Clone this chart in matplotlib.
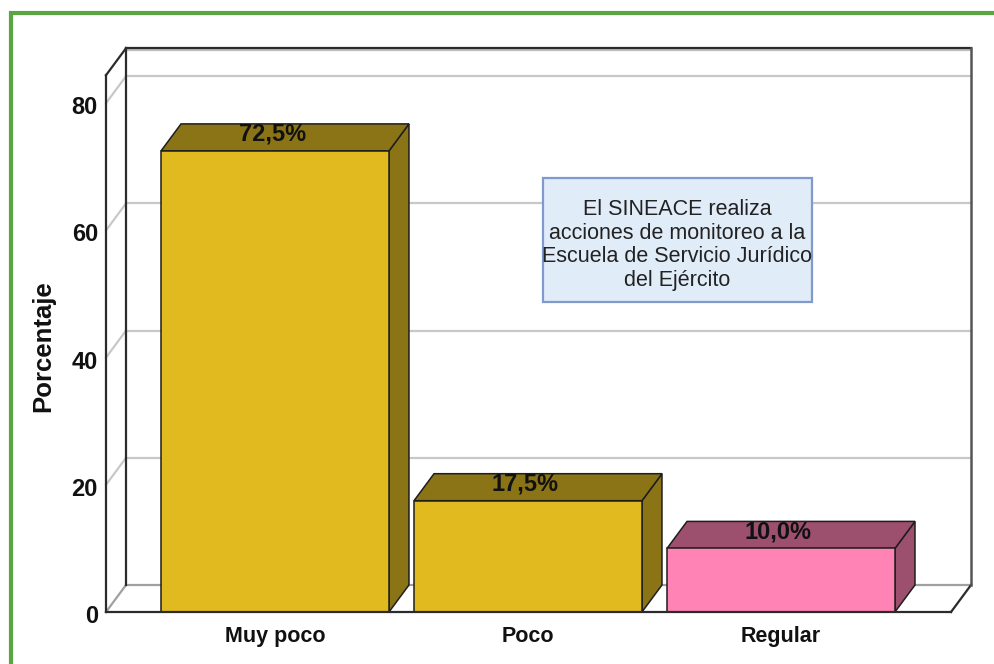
import matplotlib
matplotlib.use("Agg")
import matplotlib.pyplot as plt
from matplotlib.patches import Rectangle, Polygon
from matplotlib.lines import Line2D

# ---- data ----
categories = ["Muy poco", "Poco", "Regular"]
values = [72.5, 17.5, 10.0]
value_labels = ["72,5%", "17,5%", "10,0%"]
yticks = [0, 20, 40, 60, 80]
ylabel = "Porcentaje"
note = "El SINEACE realiza\nacciones de monitoreo a la\nEscuela de Servicio Jurídico\ndel Ejército"

front_colors = ["#e1ba20", "#e1ba20", "#ff83b5"]
dark_colors = ["#8a7415", "#8a7415", "#9d506d"]

NARROW = ["Liberation Sans Narrow", "Liberation Sans", "DejaVu Sans"]
SANS = ["Liberation Sans", "DejaVu Sans"]

fig = plt.figure(figsize=(9.95, 6.64), dpi=100)
ax = fig.add_axes([0, 0, 1, 1])
ax.set_xlim(-275 / 253, 720 / 253)
ax.set_ylim(-52 / 6.36, 612 / 6.36)
ax.axis("off")

# 3D depth offsets (data units)
DX = 20 / 253
DY = 27 / 6.36
n = len(categories)
x0 = -0.5 - 0.168
x1 = n - 1 + 0.5 + 0.172
ytop = 84.4
bw = 0.901

grid_c = "#c8c8c8"
frame_c = "#2b2b2b"

# gridlines on back wall and left wall
for t in yticks[1:]:
    ax.add_line(Line2D([x0 + DX, x1 + DX], [t + DY, t + DY], color=grid_c, lw=1.6, zorder=1))
    ax.add_line(Line2D([x0, x0 + DX], [t, t + DY], color=grid_c, lw=1.6, zorder=1))

# floor
ax.add_line(Line2D([x0 + DX, x1 + DX], [DY, DY], color="#a0a0a0", lw=1.6, zorder=1))
ax.add_line(Line2D([x0, x0 + DX], [0, DY], color="#a0a0a0", lw=1.6, zorder=1))
ax.add_line(Line2D([x1, x1 + DX], [0, DY], color=frame_c, lw=1.6, zorder=1))

# back wall frame
ax.add_line(Line2D([x0 + DX, x1 + DX], [ytop + DY - 0.35, ytop + DY - 0.35], color="#bdbdbd", lw=1.6, zorder=1))
ax.add_line(Line2D([x0 + DX, x1 + DX], [ytop + DY, ytop + DY], color=frame_c, lw=1.6, zorder=2))
ax.add_line(Line2D([x1 + DX, x1 + DX], [DY, ytop + DY], color="#555555", lw=1.8, zorder=2))
ax.add_line(Line2D([x0 + DX, x0 + DX], [DY, ytop + DY], color=frame_c, lw=1.6, zorder=2))
# left front edge & top diagonal
ax.add_line(Line2D([x0, x0], [0, ytop], color=frame_c, lw=1.6, zorder=2))
ax.add_line(Line2D([x0, x0 + DX], [ytop, ytop + DY], color=frame_c, lw=1.6, zorder=2))

# bars
edge = "#1e1e1e"
for i, (v, fc, dc) in enumerate(zip(values, front_colors, dark_colors)):
    l = i - bw / 2
    r = i + bw / 2
    side = Polygon([(r, 0), (r + DX, DY), (r + DX, v + DY), (r, v)], closed=True,
                   facecolor=dc, edgecolor=edge, lw=1.1, zorder=3)
    top = Polygon([(l, v), (l + DX, v + DY), (r + DX, v + DY), (r, v)], closed=True,
                  facecolor=dc, edgecolor=edge, lw=1.1, zorder=3)
    front = Rectangle((l, 0), bw, v, facecolor=fc, edgecolor=edge, lw=1.1, zorder=4)
    ax.add_patch(side)
    ax.add_patch(top)
    ax.add_patch(front)
    ax.text(i - 0.01, v + 2.6, value_labels[i], ha="center", va="center",
            fontsize=17, fontweight="bold", family=NARROW, color="#111111", zorder=6)

# front floor line
ax.add_line(Line2D([x0, x1], [0, 0], color=frame_c, lw=1.6, zorder=5))

# y tick labels
for t in yticks:
    ax.text((98 - 275) / 253, t - 0.7, str(t), ha="right", va="center",
            fontsize=17, fontweight="bold", family=NARROW, color="#111111")

# category labels
for i, c in enumerate(categories):
    ax.text(i, -3.9, c, ha="center", va="center", fontsize=15.5, fontweight="bold",
            family=SANS, color="#111111")

# y label
ax.text((43 - 275) / 253, 41.8, ylabel, rotation=90, ha="center", va="center",
        fontsize=18.5, fontweight="bold", family=SANS, color="#111111")

# annotation box
bx0, bx1 = (543 - 275) / 253, (812 - 275) / 253
by0, by1 = (612 - 302) / 6.36, (612 - 178) / 6.36
ax.add_patch(Rectangle((bx0, by0), bx1 - bx0, by1 - by0, facecolor="#e1ecf9",
                       edgecolor="#7f9acb", lw=1.6, zorder=6))
ax.text((677 - 275) / 253, (612 - 245) / 6.36, note, ha="center", va="center",
        fontsize=15.5, family=SANS, color="#222222", linespacing=1.18, zorder=7)

# green outer border (partially cropped)
fig.patches.append(Rectangle((11 / 995, -0.1), 1.2, (664 - 13) / 664 + 0.1,
                             transform=fig.transFigure, fill=False,
                             edgecolor="#5aa542", lw=3, zorder=10))

fig.savefig("out.png", dpi=100)
